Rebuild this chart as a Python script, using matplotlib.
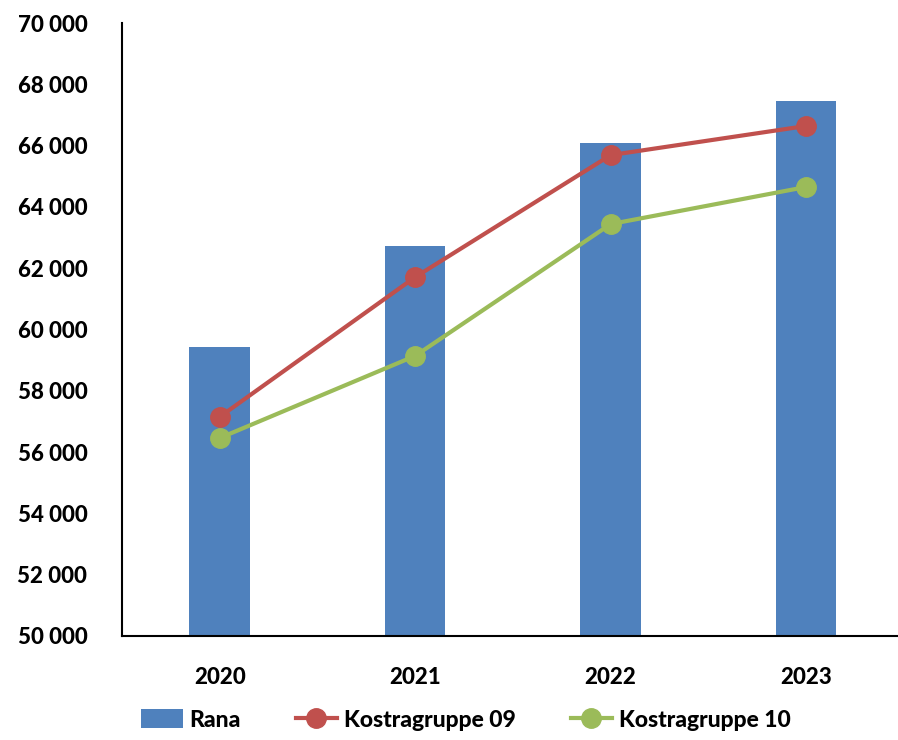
import matplotlib
matplotlib.use("Agg")
import matplotlib.pyplot as plt
from matplotlib.ticker import FuncFormatter

years = ["2020", "2021", "2022", "2023"]
rana = [59430, 62720, 66090, 67450]
kg09 = [57150, 61710, 65690, 66640]
kg10 = [56460, 59140, 63440, 64650]

plt.rcParams['font.family'] = ['Lato', 'DejaVu Sans']

fig = plt.figure(figsize=(8.98, 7.40), dpi=100)
ax = fig.add_axes([122/898, 104/740, 1 - 122/898, (636-23)/740])

x = list(range(len(years)))
b = ax.bar(x, rana, width=0.31, color='#4F81BD', label='Rana', zorder=1)
l1, = ax.plot(x, kg09, color='#C0504D', lw=3, marker='o', ms=14, label='Kostragruppe 09', zorder=3)
l2, = ax.plot(x, kg10, color='#9BBB59', lw=3, marker='o', ms=14, label='Kostragruppe 10', zorder=3)

ax.set_ylim(50000, 70000)
ax.set_yticks(range(50000, 70001, 2000))
ax.yaxis.set_major_formatter(FuncFormatter(lambda v, p: f"{int(v):,}".replace(",", " ")))
ax.set_xlim(-0.5, 3.47)
ax.set_xticks(x)
ax.set_xticklabels(years)
for s in ['top', 'right']:
    ax.spines[s].set_visible(False)
for s in ['left', 'bottom']:
    ax.spines[s].set_linewidth(1.5)
    ax.spines[s].set_color('black')
ax.tick_params(axis='both', length=0, labelsize=16)
ax.tick_params(axis='y', pad=25)
ax.tick_params(axis='x', pad=22)
for lab in ax.get_xticklabels() + ax.get_yticklabels():
    lab.set_fontweight('black')

leg = fig.legend([b, l1, l2], ['Rana', 'Kostragruppe 09', 'Kostragruppe 10'],
                 loc='center', bbox_to_anchor=(0.519, 20/740), ncol=3, frameon=False,
                 prop={'size': 16.5, 'weight': 'black'}, handlelength=1.8, handleheight=0.85,
                 columnspacing=2.4, handletextpad=0.3)
fig.savefig("out.png", dpi=100)
